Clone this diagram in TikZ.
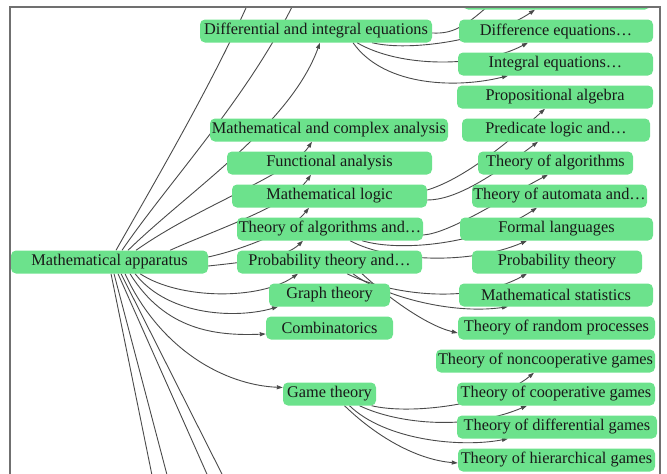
\documentclass[tikz,border=0pt]{standalone}
\usepackage{fontspec}
\setmainfont{Liberation Serif}
\usetikzlibrary{arrows.meta}
\pgfdeclarelayer{edges}
\pgfsetlayers{edges,main}
\definecolor{nodegreen}{HTML}{6CE28C}
\definecolor{edgegray}{HTML}{4A4A4A}
\definecolor{framegray}{HTML}{707070}
\begin{document}
\begin{tikzpicture}[x=1pt,y=-1pt,
  topic/.style={fill=nodegreen, rounded corners=5pt, inner sep=0pt,
    minimum height=23pt, text=black!90, font=\fontsize{16.3}{18}\selectfont},
  link/.style={draw=edgegray, line width=0.9pt, -{Triangle[length=6pt,width=4pt]}},
  stub/.style={draw=edgegray, line width=0.9pt}]
\useasboundingbox (0,0) rectangle (667,474);

% ---- nodes (clipped to the viewing frame)
\begin{scope}
\clip (10,7) rectangle (660,490);
\node[topic, minimum width=197pt] (MA)  at (109.5,262) {Mathematical apparatus};
% middle column
\node[topic, minimum width=232pt] (D)   at (316,31)    {Differential and integral equations};
\node[topic, minimum width=238pt] (MC)  at (329,130)   {Mathematical and complex analysis};
\node[topic, minimum width=205pt] (FA)  at (329.5,163) {Functional analysis};
\node[topic, minimum width=195pt] (ML)  at (329.5,196) {Mathematical logic};
\node[topic, minimum width=186pt] (TAl) at (330,229)   {Theory of algorithms and…};
\node[topic, minimum width=185pt] (PTa) at (329.5,262) {Probability theory and…};
\node[topic, minimum width=121pt] (GT)  at (329.5,295) {Graph theory};
\node[topic, minimum width=127pt] (CO)  at (329.5,328) {Combinatorics};
\node[topic, minimum width=93pt]  (G)   at (329.5,394) {Game theory};
% right column
\node[topic, minimum width=187pt] (T)   at (556.5,-2)  {};
\node[topic, minimum width=194pt] (DE)  at (556,31)    {Difference equations…};
\node[topic, minimum width=195pt] (IE)  at (555.5,64)  {Integral equations…};
\node[topic, minimum width=196pt] (PA)  at (555,97)    {Propositional algebra};
\node[topic, minimum width=188pt] (PL)  at (556,130)   {Predicate logic and…};
\node[topic, minimum width=155pt] (TA)  at (555.5,163) {Theory of algorithms};
\node[topic, minimum width=175pt] (TAu) at (559.5,196) {Theory of automata and…};
\node[topic, minimum width=193pt] (FL)  at (556.5,229) {Formal languages};
\node[topic, minimum width=170pt] (PT)  at (557,262)   {Probability theory};
\node[topic, minimum width=194pt] (MS)  at (556,295)   {Mathematical statistics};
\node[topic, minimum width=197pt] (TRP) at (556.5,328) {Theory of random processes};
\node[topic, minimum width=219pt] (TNG) at (545.5,361) {Theory of noncooperative games};
\node[topic, minimum width=198pt] (TCG) at (556,394)   {Theory of cooperative games};
\node[topic, minimum width=200pt] (TDG) at (557,427)   {Theory of differential games};
\node[topic, minimum width=197pt] (THG) at (556.5,460) {Theory of hierarchical games};
\end{scope}

% free ends of connectors that leave the frame
\coordinate (up1) at (254,-10);
\coordinate (up2) at (300,-10);
\coordinate (up3) at (515,-20);
\coordinate (dn1) at (155,490);
\coordinate (dn2) at (171,490);
\coordinate (dn3) at (214,490);
\coordinate (dn4) at (230,490);

% ---- connectors, drawn behind the nodes
\begin{pgfonlayer}{edges}
\clip (10,7) rectangle (660,490);
% from the root, upwards
\draw[stub] ([xshift=6.5pt]MA.north)  .. controls (150,190) and (215,80)  .. (up1);
\draw[stub] ([xshift=12.5pt]MA.north) .. controls (170,180) and (255,90)  .. (up2);
\draw[link] ([xshift=18.5pt]MA.north) .. controls (190,190) and (290,125) .. ([xshift=4pt]D.south);
\draw[link] ([xshift=26.5pt]MA.north) .. controls (200,205) and (290,175) .. ([xshift=-17pt]MC.south);
\draw[link] ([xshift=60.5pt]MA.north) .. controls (215,230) and (290,205) .. ([xshift=-18.5pt]FA.south);
\draw[link] ([yshift=5pt]MA.east)     .. controls (240,250) and (290,232) .. ([xshift=-20.5pt]ML.south);
\draw[link] ([yshift=-4pt]MA.east)    .. controls (245,262) and (285,258) .. ([xshift=-27pt]TAl.south);
% from the root, downwards
\draw[link] ([xshift=30.5pt]MA.south) .. controls (180,300) and (260,300) .. ([xshift=-31.5pt]PTa.south);
\draw[link] ([xshift=25.5pt]MA.south) .. controls (170,318) and (240,318) .. ([xshift=-51.5pt]GT.south);
\draw[link] ([xshift=20.5pt]MA.south) .. controls (165,330) and (215,336) .. ([yshift=-6pt]CO.west);
\draw[link] ([xshift=15.5pt]MA.south) .. controls (160,350) and (225,385) .. ([yshift=6.5pt]G.west);
\draw[stub] ([xshift=1.5pt]MA.south) -- (dn1);
\draw[stub] ([xshift=4.5pt]MA.south) -- (dn2);
\draw[stub] ([xshift=8.5pt]MA.south) -- (dn3);
\draw[stub] ([xshift=11.5pt]MA.south) -- (dn4);
% differential and integral equations
\draw[stub] ([yshift=-2pt]D.east)   .. controls (455,34) and (468,27)  .. (up3);
\draw[link] ([xshift=56pt]D.south)  .. controls (410,52) and (490,40)  .. ([xshift=-21.5pt]T.south);
\draw[link] ([xshift=41pt]D.south)  .. controls (400,68) and (480,68)  .. ([xshift=-28pt]DE.south);
\draw[link] ([xshift=37pt]D.south)  .. controls (385,88) and (460,88)  .. ([xshift=-47.5pt]IE.south);
% mathematical logic
\draw[link] ([yshift=6pt]ML.east)   .. controls (460,180) and (500,150) .. ([xshift=-10pt]PA.south);
\draw[link] ([yshift=-4pt]ML.east)  .. controls (455,200) and (490,178) .. ([xshift=-18pt]PL.south);
% theory of algorithms and ...
\draw[link] ([yshift=-6pt]TAl.east) .. controls (450,233) and (500,200) .. ([xshift=-7.5pt]TA.south);
\draw[link] ([xshift=32pt]TAl.south) .. controls (400,252) and (480,245) .. ([xshift=-22.5pt]TAu.south);
\draw[link] ([xshift=20pt]TAl.south) .. controls (390,262) and (470,265) .. ([xshift=-29.5pt]FL.south);
% probability theory and ...
\draw[link] ([xshift=17.5pt]PTa.south) .. controls (390,295) and (470,305) .. ([xshift=-30pt]PT.south);
\draw[link] ([xshift=23.5pt]PTa.south) .. controls (380,295) and (450,315) .. ([xshift=-48pt]MS.south);
\draw[link] ([xshift=32.5pt]PTa.south) .. controls (385,295) and (425,325) .. ([yshift=-5pt]TRP.west);
% game theory
\draw[link] ([xshift=42pt]G.south) .. controls (410,415) and (495,405) .. ([xshift=-11.5pt]TNG.south);
\draw[link] ([xshift=30pt]G.south) .. controls (400,425) and (470,430) .. ([xshift=-29pt]TCG.south);
\draw[link] ([xshift=20pt]G.south) .. controls (385,440) and (460,448) .. ([xshift=-49pt]TDG.south);
\draw[link] ([xshift=15pt]G.south) .. controls (380,440) and (420,460) .. ([yshift=-3pt]THG.west);
\end{pgfonlayer}

% viewing frame
\draw[framegray, line width=1.3pt] (10,490) -- (10,7) -- (660,7) -- (660,490);
\end{tikzpicture}
\end{document}
